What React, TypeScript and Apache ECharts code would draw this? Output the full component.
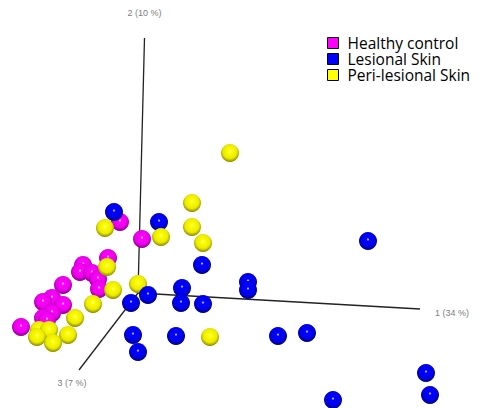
import React, { useEffect, useRef } from "react";
import * as echarts from "echarts";

// Projected (screen-plane) coordinates of the PCoA samples
const healthyX = [120, 142, 108, 83, 80, 92, 98, 99, 63, 52, 43, 63, 52, 43, 47, 21];
const healthyY = [222, 239, 258, 265, 272, 273, 279, 289, 285, 298, 302, 305, 313, 318, 320, 327];

const lesionalX = [114, 159, 202, 368, 248, 248, 182, 181, 203, 131, 133, 176, 138, 278, 307, 426, 430, 333];
const lesionalY = [212, 222, 265, 241, 282, 290, 288, 303, 304, 303, 335, 336, 352, 336, 333, 373, 395, 400];
// lesional samples nearer the viewer (drawn in front of the other groups)
const lesionalFrontX = [148];
const lesionalFrontY = [295];

const periX = [105, 161, 192, 230, 192, 203, 107, 113, 93, 75, 68, 39, 49, 37, 53, 138, 210];
const periY = [228, 237, 203, 153, 227, 243, 267, 290, 304, 318, 335, 330, 330, 337, 343, 284, 337];

// PCoA axes (origin and end points in the same projected plane)
const axisOrigin = [138, 293];
const axis1End = [420, 309];
const axis2End = [144.5, 38];
const axis3End = [79, 370];
const axisNames = ["1 (34 %)", "2 (10 %)", "3 (7 %)"];

const seriesNames = ["Healthy control", "Lesional Skin", "Peri-lesional Skin"];
const baseColors = ["#ff00ff", "#0000ff", "#ffff00"];
const midColors = ["#ea00ea", "#0000ea", "#eaea00"];
const edgeColors = ["#700070", "#000058", "#707000"];

function zip(xs: number[], ys: number[]) {
  return xs.map((x, i) => [x, ys[i]]);
}

function sphere(i: number) {
  return {
    type: "radial",
    x: 0.5,
    y: 0.42,
    r: 0.62,
    colorStops: [
      { offset: 0, color: "#ffffff" },
      { offset: 0.14, color: baseColors[i] },
      { offset: 0.62, color: midColors[i] },
      { offset: 1, color: edgeColors[i] },
    ],
  };
}

export default function App() {
  const ref = useRef<HTMLDivElement>(null);
  useEffect(() => {
    if (!ref.current) return;
    const chart = echarts.init(ref.current, undefined, { renderer: "svg" });
    const axisLine = (end: number[]) => ({
      type: "line",
      data: [axisOrigin, end],
      symbol: "none",
      silent: true,
      z: 1,
      lineStyle: { color: "#222", width: 1.3 },
    });
    const axisLabel = (end: number[], name: string, pos: string, offset: number[]) => ({
      type: "scatter",
      data: [end],
      symbolSize: 0,
      silent: true,
      z: 1,
      label: {
        show: true,
        formatter: name,
        position: pos,
        offset,
        color: "#555",
        fontSize: 9,
        fontFamily: "Liberation Sans, Arial, sans-serif",
      },
    });
    const scatter = (i: number, data: number[][], z: number) => ({
      type: "scatter",
      name: seriesNames[i],
      data,
      symbol: "circle",
      symbolSize: 18,
      z,
      itemStyle: { color: sphere(i), opacity: 1 },
    });
    chart.setOption({
      animation: false,
      grid: { left: 0, right: 0, top: 0, bottom: 0 },
      xAxis: { type: "value", min: 0, max: 485, show: false },
      yAxis: { type: "value", min: 0, max: 408, inverse: true, show: false },
      legend: {
        orient: "vertical",
        left: 327,
        top: 35,
        padding: 0,
        itemWidth: 11,
        itemHeight: 11,
        itemGap: 0,
        icon: "rect",
        textStyle: {
          fontSize: 15.5,
          lineHeight: 15.5,
          color: "#000",
          fontFamily: "Open Sans",
          padding: [0, 0, 0, 4],
        },
        data: seriesNames.map((n, i) => ({
          name: n,
          itemStyle: { color: baseColors[i], borderColor: "#000", borderWidth: 1 },
        })),
      },
      series: [
        axisLine(axis1End),
        axisLine(axis2End),
        axisLine(axis3End),
        axisLabel(axis1End, axisNames[0], "right", [10, 4]),
        axisLabel(axis2End, axisNames[1], "top", [0, -16]),
        axisLabel(axis3End, axisNames[2], "bottom", [-7, 3]),
        scatter(0, zip(healthyX, healthyY), 2),
        scatter(1, zip(lesionalX, lesionalY), 3),
        scatter(2, zip(periX, periY), 4),
        scatter(1, zip(lesionalFrontX, lesionalFrontY), 5),
      ],
    });
    return () => chart.dispose();
  }, []);
  return (
    <div
      ref={ref}
      style={{ position: "fixed", left: 0, top: 0, width: 485, height: 408, background: "#fff" }}
    />
  );
}
